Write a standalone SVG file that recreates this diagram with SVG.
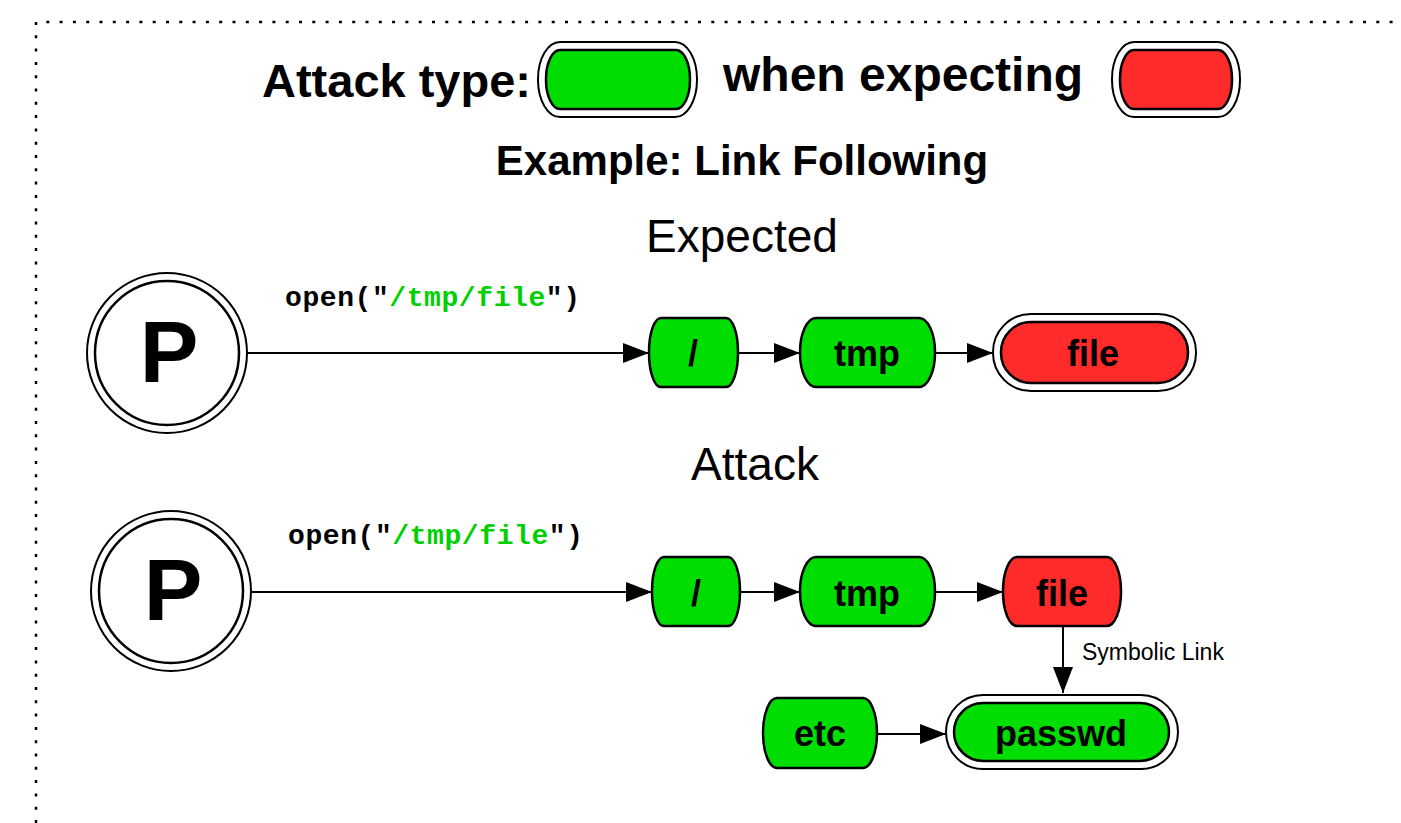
<svg xmlns="http://www.w3.org/2000/svg" width="1401" height="823" viewBox="0 0 1401 823">
<defs>
<style>
.frame{fill:none;stroke:#000;stroke-width:2.5;stroke-dasharray:3 10.3}
.g{fill:#00dd00;stroke:#000;stroke-width:2.5}
.r{fill:#ff2a2a;stroke:#000;stroke-width:2.5}
.outer{fill:#fff;stroke:#000;stroke-width:2}
.edge{fill:none;stroke:#000;stroke-width:2;marker-end:url(#ah)}
.lbl{font-family:"Liberation Sans",Arial,sans-serif;font-weight:bold;font-size:36px;text-anchor:middle;fill:#000}
.big{font-family:"Liberation Sans",Arial,sans-serif;font-weight:bold;font-size:47px;fill:#000}
.title{font-family:"Liberation Sans",Arial,sans-serif;font-size:46px;text-anchor:middle;fill:#000}
.code{font-family:"Liberation Mono","Courier New",monospace;font-weight:bold;font-size:28px;fill:#000}
.codeg{fill:#00d000}
.p{font-family:"Liberation Sans",Arial,sans-serif;font-weight:bold;font-size:88px;text-anchor:middle;fill:#000}
.small{font-family:"Liberation Sans",Arial,sans-serif;font-size:23px;fill:#000}
</style>
<marker id="ah" markerUnits="userSpaceOnUse" markerWidth="28" markerHeight="22" refX="26" refY="10" orient="auto">
<path d="M0,0 L26,10 L0,20 z" fill="#000"/>
</marker>
</defs>
<rect width="1401" height="823" fill="#fff"/>
<path class="frame" d="M36,823 V22 H1401"/>

<g id="legend">
<text class="big" x="262" y="97">Attack type:</text>
<rect class="outer" x="538" y="42" width="159" height="75" rx="22" ry="37"/>
<rect class="g" x="546" y="50" width="144" height="59" rx="14" ry="29"/>
<text class="big" x="723" y="91" style="font-size:48px">when expecting</text>
<rect class="outer" x="1112" y="42" width="128" height="75" rx="22" ry="37"/>
<rect class="r" x="1120" y="50" width="112" height="59" rx="14" ry="29"/>
<text class="big" x="742" y="175" style="font-size:42px;text-anchor:middle">Example: Link Following</text>
</g>

<text class="title" x="742" y="252">Expected</text>
<text class="title" x="755" y="480">Attack</text>

<g id="connectors">
<line class="edge" x1="247" y1="353" x2="649" y2="353"/>
<line class="edge" x1="738" y1="353" x2="800" y2="353"/>
<line class="edge" x1="935" y1="353" x2="993" y2="353"/>
<line class="edge" x1="251" y1="592" x2="652" y2="592"/>
<line class="edge" x1="740" y1="592" x2="800" y2="592"/>
<line class="edge" x1="935" y1="592" x2="1003" y2="592"/>
<line class="edge" x1="1063" y1="626" x2="1063" y2="693"/>
<line class="edge" x1="877" y1="734" x2="946" y2="734"/>
<text class="code" x="285" y="306" textLength="295" lengthAdjust="spacing">open("<tspan class="codeg">/tmp/file</tspan>")</text>
<text class="code" x="288" y="544" textLength="295" lengthAdjust="spacing">open("<tspan class="codeg">/tmp/file</tspan>")</text>
<text class="small" x="1082" y="660">Symbolic Link</text>
</g>

<g id="p1">
<circle cx="167" cy="353" r="80" fill="#fff" stroke="#000" stroke-width="2"/>
<circle cx="167" cy="353" r="72" fill="#fff" stroke="#000" stroke-width="2.5"/>
<text class="p" x="169" y="382">P</text>
</g>
<g id="root1">
<rect class="g" x="649" y="318" width="89" height="69" rx="12" ry="34"/>
<text class="lbl" x="693" y="366">/</text>
</g>
<g id="tmp1">
<rect class="g" x="800" y="318" width="135" height="69" rx="16" ry="34"/>
<text class="lbl" x="867" y="366">tmp</text>
</g>
<g id="file1">
<rect class="outer" x="993" y="314" width="203" height="77" rx="38" ry="38"/>
<rect class="r" x="1001" y="322" width="187" height="61" rx="30" ry="30"/>
<text class="lbl" x="1093" y="366">file</text>
</g>

<g id="p2">
<circle cx="171" cy="591" r="80" fill="#fff" stroke="#000" stroke-width="2"/>
<circle cx="171" cy="591" r="72" fill="#fff" stroke="#000" stroke-width="2.5"/>
<text class="p" x="173" y="620">P</text>
</g>
<g id="root2">
<rect class="g" x="652" y="557" width="88" height="69" rx="12" ry="34"/>
<text class="lbl" x="696" y="606">/</text>
</g>
<g id="tmp2">
<rect class="g" x="800" y="557" width="135" height="69" rx="16" ry="34"/>
<text class="lbl" x="867" y="606">tmp</text>
</g>
<g id="file2">
<rect class="r" x="1003" y="557" width="118" height="69" rx="14" ry="34"/>
<text class="lbl" x="1062" y="606">file</text>
</g>
<g id="etc">
<rect class="g" x="763" y="698" width="114" height="70" rx="14" ry="35"/>
<text class="lbl" x="820" y="746">etc</text>
</g>
<g id="passwd">
<rect class="outer" x="946" y="695" width="232" height="74" rx="37" ry="37"/>
<rect class="g" x="954" y="703" width="215" height="58" rx="29" ry="29"/>
<text class="lbl" x="1061" y="746">passwd</text>
</g>
</svg>
